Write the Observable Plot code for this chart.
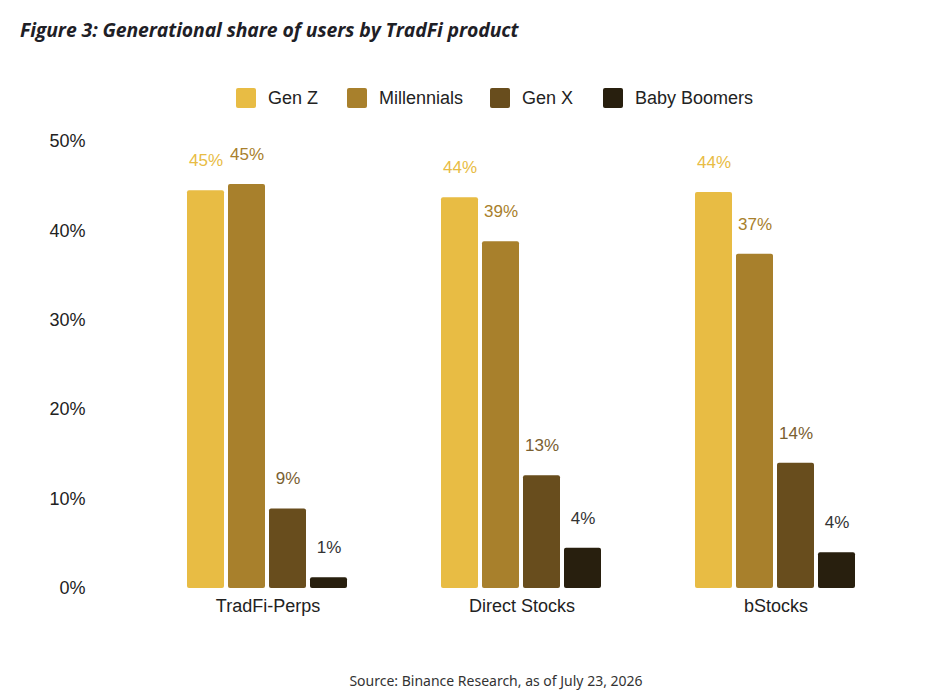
<!DOCTYPE html>
<html><head><meta charset="utf-8">
<script src="https://cdn.jsdelivr.net/npm/d3@7"></script>
<script src="https://cdn.jsdelivr.net/npm/@observablehq/plot@0.6"></script>
<style>
body{margin:0;background:#fff;}
#wrap{position:relative;width:939px;height:697px;overflow:hidden;font-family:"Liberation Sans",Arial,sans-serif;}
#title{position:absolute;left:20px;top:16px;font-family:"Open Sans",sans-serif;font-weight:700;font-style:italic;font-size:19.4px;color:#1e2026;letter-spacing:-0.1px;}
#legend{position:absolute;left:0;top:87px;width:939px;height:24px;font-size:18px;color:#222;}
#legend .it{position:absolute;top:0;display:flex;align-items:center;height:22px;white-space:nowrap;}
#legend .sw{width:20px;height:20px;border-radius:2px;margin-right:12px;}
#chart{position:absolute;left:0;top:120px;}
#source{position:absolute;left:0;width:992px;text-align:center;top:671px;font-family:"Noto Sans",sans-serif;font-size:14px;color:#333;}
</style></head>
<body><div id="wrap">
<div id="title">Figure 3: Generational share of users by TradFi product</div>
<div id="legend"></div>
<div id="chart"></div>
<div id="source">Source: Binance Research, as of July 23, 2026</div>
</div>
<script>
const products = ["TradFi-Perps", "Direct Stocks", "bStocks"];
const generations = ["Gen Z", "Millennials", "Gen X", "Baby Boomers"];
const genZ = [44.5, 43.7, 44.3];
const millennials = [45.2, 38.8, 37.4];
const genX = [8.9, 12.6, 14.0];
const boomers = [1.2, 4.5, 4.0];
const labelsGenZ = ["45%", "44%", "44%"];
const labelsMillennials = ["45%", "39%", "37%"];
const labelsGenX = ["9%", "13%", "14%"];
const labelsBoomers = ["1%", "4%", "4%"];
const yTicks = [0, 10, 20, 30, 40, 50];

const barColors = ["#E8BC44", "#A8802C", "#684D1D", "#281F0E"];
const labelColors = ["#E8BC44", "#A8802C", "#7A6031", "#333333"];

const series = [genZ, millennials, genX, boomers];
const labels = [labelsGenZ, labelsMillennials, labelsGenX, labelsBoomers];
const data = [];
generations.forEach((g, gi) => products.forEach((p, pi) => {
  data.push({product: p, gen: g, value: series[gi][pi], label: labels[gi][pi]});
}));

// legend
const leg = document.getElementById("legend");
const legendX = [236, 347, 490, 603];
generations.forEach((g, i) => {
  const it = document.createElement("div");
  it.className = "it";
  it.style.left = legendX[i] + "px";
  it.innerHTML = `<div class="sw" style="background:${barColors[i]}"></div><span>${g}</span>`;
  leg.appendChild(it);
});

const chart = Plot.plot({
  width: 939,
  height: 520,
  marginLeft: 122,
  marginRight: 19,
  marginTop: 21,
  marginBottom: 52,
  style: {fontFamily: "'Liberation Sans', Arial, sans-serif", fontSize: "18px", color: "#222", background: "transparent"},
  fx: {domain: products, paddingInner: 0.36, paddingOuter: 0.25, label: null},
  x: {domain: generations, paddingInner: 0.09, paddingOuter: 0, axis: null},
  y: {domain: [0, 50], ticks: yTicks, label: null, tickFormat: d => d + "%"},
  color: {domain: generations, range: barColors},
  marks: [
    Plot.axisY({ticks: yTicks, tickSize: 0, tickPadding: 101, tickFormat: d => d + "%", fontSize: 18, label: null}),
    Plot.axisFx({anchor: "bottom", tickSize: 0, tickPadding: 11, fontSize: 18, label: null}),
    Plot.barY(data, {fx: "product", x: "gen", y: "value", fill: "gen", rx: 2}),
    ...generations.map((g, i) => Plot.text(data.filter(d => d.gen === g), {
      fx: "product", x: "gen", y: "value", text: "label", dy: -30,
      fill: labelColors[i], fontSize: 17
    }))
  ]
});
document.getElementById("chart").appendChild(chart);
</script>
</body></html>
